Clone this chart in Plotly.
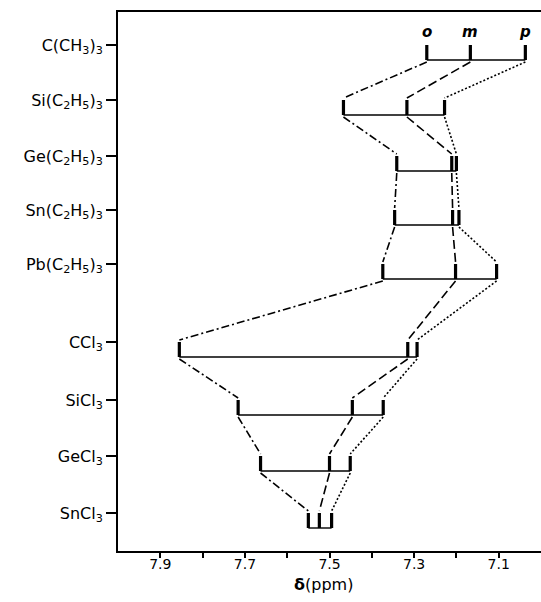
import plotly.graph_objects as go

# ---- data ----
rows = ["C(CH<sub>3</sub>)<sub>3</sub>", "Si(C<sub>2</sub>H<sub>5</sub>)<sub>3</sub>",
        "Ge(C<sub>2</sub>H<sub>5</sub>)<sub>3</sub>", "Sn(C<sub>2</sub>H<sub>5</sub>)<sub>3</sub>",
        "Pb(C<sub>2</sub>H<sub>5</sub>)<sub>3</sub>", "CCl<sub>3</sub>", "SiCl<sub>3</sub>",
        "GeCl<sub>3</sub>", "SnCl<sub>3</sub>"]
ortho = [7.27, 7.467, 7.341, 7.346, 7.374, 7.855, 7.716, 7.663, 7.550]
meta = [7.167, 7.317, 7.211, 7.209, 7.202, 7.315, 7.446, 7.500, 7.524]
para = [7.037, 7.228, 7.200, 7.194, 7.105, 7.293, 7.373, 7.451, 7.495]
series_names = ["o", "m", "p"]
x_tickvals = [7.9, 7.8, 7.7, 7.6, 7.5, 7.4, 7.3, 7.2, 7.1]
x_ticktext = ["7.9", "", "7.7", "", "7.5", "", "7.3", "", "7.1"]
x_title = "<b>δ</b>(ppm)"

# ---- layout helpers (positions, not data) ----
row_y = [45, 100, 156, 210, 264, 342, 400, 456, 513]
mark_h = 15
gap = 2
dash_patterns = ["8px,3px,2px,3px", "9px,4px", "2px,2px"]
FONT = "DejaVu Sans"

fig = go.Figure()
series = [ortho, meta, para]

# connectors between successive rows
for vals, dsh in zip(series, dash_patterns):
    xs, ys = [], []
    for i in range(len(rows) - 1):
        xs += [vals[i], vals[i + 1], None]
        ys += [row_y[i] + mark_h + gap, row_y[i + 1] - gap, None]
    fig.add_trace(go.Scatter(x=xs, y=ys, mode="lines",
                             line=dict(color="black", width=1.6, dash=dsh),
                             hoverinfo="skip", showlegend=False))

# horizontal baselines
xs, ys = [], []
for i in range(len(rows)):
    lo = min(ortho[i], meta[i], para[i])
    hi = max(ortho[i], meta[i], para[i])
    xs += [hi, lo, None]
    ys += [row_y[i] + mark_h, row_y[i] + mark_h, None]
fig.add_trace(go.Scatter(x=xs, y=ys, mode="lines", line=dict(color="black", width=1.4),
                         hoverinfo="skip", showlegend=False))

# vertical marks
xs, ys = [], []
for vals in series:
    for i in range(len(rows)):
        xs += [vals[i], vals[i], None]
        ys += [row_y[i], row_y[i] + mark_h, None]
fig.add_trace(go.Scatter(x=xs, y=ys, mode="lines", line=dict(color="black", width=3.2),
                         hoverinfo="skip", showlegend=False))

# o, m, p labels
for name, vals in zip(series_names, series):
    fig.add_annotation(x=vals[0], y=row_y[0] - 2, text="<i><b>" + name + "</b></i>",
                       showarrow=False, yanchor="bottom", xanchor="center",
                       font=dict(family=FONT, size=15, color="black"))

# x-axis title
fig.add_annotation(x=7.515, xref="x", y=0, yref="paper", yshift=-33,
                   text=x_title, showarrow=False, xanchor="center", yanchor="middle",
                   font=dict(family=FONT, size=16, color="black"))

fig.update_layout(
    width=541, height=602,
    margin=dict(l=118, r=0, t=12, b=51),
    paper_bgcolor="white", plot_bgcolor="white",
    font=dict(family=FONT, size=15, color="black"),
    xaxis=dict(range=[8.0, 7.0], tickvals=x_tickvals, ticktext=x_ticktext,
               ticks="outside", ticklen=5, tickwidth=1.5, tickcolor="black",
               showline=True, linecolor="black", linewidth=2, mirror=True,
               showgrid=False, zeroline=False, ticklabelstandoff=-6,
               tickfont=dict(family=FONT, size=14)),
    yaxis=dict(range=[551, 12], tickvals=row_y, ticktext=rows,
               ticks="outside", ticklen=10, tickwidth=1.5, tickcolor="black",
               showline=True, linecolor="black", linewidth=2,
               showgrid=False, zeroline=False, tickfont=dict(family=FONT, size=16)),
)

fig.write_html("out.html", config={"displayModeBar": False},
               post_script="document.body.style.margin='0';document.body.style.overflow='hidden';")
